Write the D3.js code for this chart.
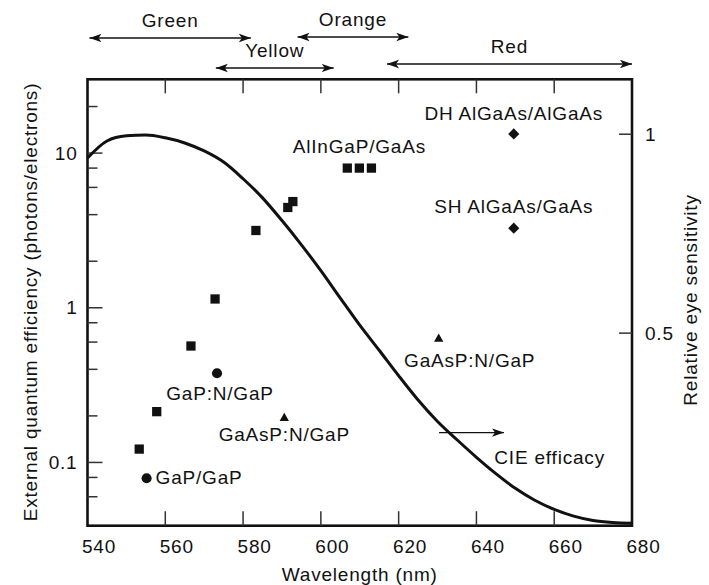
<!DOCTYPE html>
<html>
<head>
<meta charset="utf-8">
<script src="https://cdn.jsdelivr.net/npm/d3@7"></script>
<style>
    body { margin: 0; background: #fff; overflow: hidden; }
    svg { display: block; }
    svg text {
        font-family: "Liberation Sans", Arial, Helvetica, sans-serif;
        font-size: 19px;
        letter-spacing: 0.8px;
        fill: #111;
    }
</style>
</head>
<body>
<div id="chart"></div>
<script>
// Axis ticks
const xTicks = [540, 560, 580, 600, 620, 640, 660, 680];
const effMajorTicks = [0.1, 1, 10];
const effMinorTicks = [0.06, 0.08, 0.2, 0.4, 0.6, 0.8, 2, 4, 6, 8, 20];
const eyeTicks = [0.5, 1];

// CIE relative eye sensitivity
const cieWavelength = [540, 545, 550, 555, 560, 565, 570, 575, 580, 585, 590, 595, 600, 605, 610,
    615, 620, 625, 630, 635, 640, 645, 650, 655, 660, 665, 670, 675, 680];
const cieSensitivity = [0.94, 0.983, 0.996, 0.998, 0.991, 0.978, 0.958, 0.93, 0.888, 0.84, 0.783,
    0.722, 0.657, 0.588, 0.52, 0.457, 0.393, 0.332, 0.278, 0.232, 0.188, 0.147, 0.11, 0.08, 0.057,
    0.04, 0.029, 0.024, 0.022];

// LED external quantum efficiency: [wavelength nm, efficiency]
const alInGaPPoints = [[553.3, 0.122], [557.8, 0.213], [566.6, 0.566], [572.8, 1.14], [583.3, 3.16],
    [591.5, 4.45], [592.8, 4.86], [606.8, 8.0], [609.9, 8.0], [613.0, 8.0]];
const gaPPoints = [[555.2, 0.079], [573.3, 0.377]];
const gaAsPPoints = [[590.6, 0.193], [630.3, 0.628]];
const alGaAsPoints = [[649.6, 13.3], [649.6, 3.27]];

// Colour bands along the top (nm)
const bandNames = ["Green", "Orange", "Yellow", "Red"];
const bandFrom = [540.5, 594, 573, 617];
const bandTo = [582, 622.5, 603.3, 680];

const width = 709;
const height = 585;
const margin = { top: 79.3, right: 77, bottom: 59.3, left: 87.5 };
const plotRight = width - margin.right;
const plotBottom = height - margin.bottom;

const x = d3.scaleLinear().domain([540, 680]).range([margin.left, plotRight]);
const yEff = d3.scaleLog().domain([0.039, 30]).range([plotBottom, margin.top]);
const yEye = d3.scaleLinear().domain([0.016, 1.138]).range([plotBottom, margin.top]);

const svg = d3.select("#chart").append("svg")
    .attr("width", width)
    .attr("height", height);

const defs = svg.append("defs");
defs.append("marker")
    .attr("id", "head")
    .attr("viewBox", "-12 -5 13 10")
    .attr("refX", 0)
    .attr("refY", 0)
    .attr("markerWidth", 13)
    .attr("markerHeight", 10)
    .attr("markerUnits", "userSpaceOnUse")
    .attr("orient", "auto-start-reverse")
    .append("path")
    .attr("d", "M0,0L-12,-4.2L-9,0L-12,4.2Z")
    .attr("fill", "#111");

// Axes: d3 axes give the labels, the inward ticks are drawn after the frame
function styleAxis(g) {
    g.select(".domain").remove();
    g.selectAll(".tick line").remove();
    g.attr("font-size", null).attr("font-family", null);
}

svg.append("g")
    .attr("transform", `translate(0,${plotBottom})`)
    .call(d3.axisBottom(x).tickValues(xTicks).tickSize(0).tickPadding(13.5).tickFormat(d3.format("d")))
    .call(styleAxis)
    .call(g => g.selectAll(".tick text").attr("dx", 11));

svg.append("g")
    .attr("transform", `translate(${margin.left},0)`)
    .call(d3.axisLeft(yEff).tickValues(effMajorTicks).tickSize(0).tickPadding(10).tickFormat(d3.format("~g")))
    .call(styleAxis);

svg.append("g")
    .attr("transform", `translate(${plotRight},0)`)
    .call(d3.axisRight(yEye).tickValues(eyeTicks).tickSize(0).tickPadding(13).tickFormat(d3.format("~g")))
    .call(styleAxis);

// Frame
svg.append("rect")
    .attr("x", margin.left)
    .attr("y", margin.top)
    .attr("width", plotRight - margin.left)
    .attr("height", plotBottom - margin.top)
    .attr("fill", "none")
    .attr("stroke", "#111")
    .attr("stroke-width", 2.6);

function tickLines(values, x1, x2, y1, y2) {
    svg.append("g")
        .selectAll("line")
        .data(values)
        .join("line")
        .attr("x1", x1).attr("x2", x2)
        .attr("y1", y1).attr("y2", y2)
        .attr("stroke", "#333")
        .attr("stroke-width", 1.5);
}

const innerX = xTicks.slice(1, -1);
tickLines(innerX, d => x(d), d => x(d), plotBottom, plotBottom - 14.5);
tickLines(innerX, d => x(d), d => x(d), margin.top, margin.top + 14);
tickLines(effMajorTicks, margin.left, margin.left + 15, d => yEff(d), d => yEff(d));
tickLines(effMinorTicks, margin.left, margin.left + 10, d => yEff(d), d => yEff(d));
tickLines(eyeTicks, plotRight, plotRight - 13, d => yEye(d), d => yEye(d));

// Axis titles
svg.append("text")
    .attr("x", (margin.left + plotRight) / 2)
    .attr("y", 581)
    .attr("text-anchor", "middle")
    .text("Wavelength (nm)");

svg.append("text")
    .attr("transform", "translate(37,302) rotate(-90)")
    .attr("text-anchor", "middle")
    .text("External quantum efficiency (photons/electrons)");

svg.append("text")
    .attr("transform", "translate(697,300) rotate(-90)")
    .attr("text-anchor", "middle")
    .text("Relative eye sensitivity");

// CIE curve
const line = d3.line()
    .x((d, i) => x(cieWavelength[i]))
    .y(d => yEye(d))
    .curve(d3.curveMonotoneX);

svg.append("path")
    .attr("d", line(cieSensitivity))
    .attr("fill", "none")
    .attr("stroke", "#111")
    .attr("stroke-width", 3);

// Data markers
function drawPoints(points, type, size, rotate) {
    svg.append("g")
        .selectAll("path")
        .data(points)
        .join("path")
        .attr("d", d3.symbol(type, size))
        .attr("transform", d => `translate(${x(d[0])},${yEff(d[1])}) rotate(${rotate})`)
        .attr("fill", "#111");
}

drawPoints(alInGaPPoints, d3.symbolSquare, 86, 0);
drawPoints(gaPPoints, d3.symbolCircle, 80, 0);
drawPoints(gaAsPPoints, d3.symbolTriangle, 38, 0);
drawPoints(alGaAsPoints, d3.symbolSquare, 62, 45);

// Point labels
function label(text, px, py, anchor) {
    svg.append("text")
        .attr("x", px)
        .attr("y", py)
        .attr("text-anchor", anchor)
        .text(text);
}

label("AlInGaP/GaAs", x(alInGaPPoints[8][0]), yEff(alInGaPPoints[8][1]) - 15, "middle");
label("DH AlGaAs/AlGaAs", x(alGaAsPoints[0][0]), yEff(alGaAsPoints[0][1]) - 14, "middle");
label("SH AlGaAs/GaAs", x(alGaAsPoints[1][0]), yEff(alGaAsPoints[1][1]) - 15, "middle");
label("GaP:N/GaP", x(gaPPoints[1][0]) + 3, yEff(gaPPoints[1][1]) + 27, "middle");
label("GaP/GaP", x(gaPPoints[0][0]) + 9, yEff(gaPPoints[0][1]) + 6, "start");
label("GaAsP:N/GaP", x(gaAsPPoints[0][0]), yEff(gaAsPPoints[0][1]) + 23, "middle");
label("GaAsP:N/GaP", x(gaAsPPoints[1][0]) + 31, yEff(gaAsPPoints[1][1]) + 28, "middle");

// CIE efficacy pointer
svg.append("line")
    .attr("x1", x(630.4))
    .attr("x2", x(647.1))
    .attr("y1", yEye(0.25))
    .attr("y2", yEye(0.25))
    .attr("stroke", "#111")
    .attr("stroke-width", 1.2)
    .attr("marker-end", "url(#head)");
label("CIE efficacy", x(644.6), yEye(0.25) + 31, "start");

// Colour bands
const bandY = { Green: 38, Orange: 37, Yellow: 68, Red: 64 };

const band = svg.append("g")
    .selectAll("g")
    .data(bandNames)
    .join("g");

band.append("line")
    .attr("x1", (d, i) => x(bandFrom[i]))
    .attr("x2", (d, i) => x(bandTo[i]))
    .attr("y1", d => bandY[d])
    .attr("y2", d => bandY[d])
    .attr("stroke", "#111")
    .attr("stroke-width", 1.3)
    .attr("marker-start", "url(#head)")
    .attr("marker-end", "url(#head)");

band.append("text")
    .attr("x", (d, i) => (x(bandFrom[i]) + x(bandTo[i])) / 2)
    .attr("y", d => bandY[d] - 11)
    .attr("text-anchor", "middle")
    .text(d => d);
</script>
</body>
</html>
